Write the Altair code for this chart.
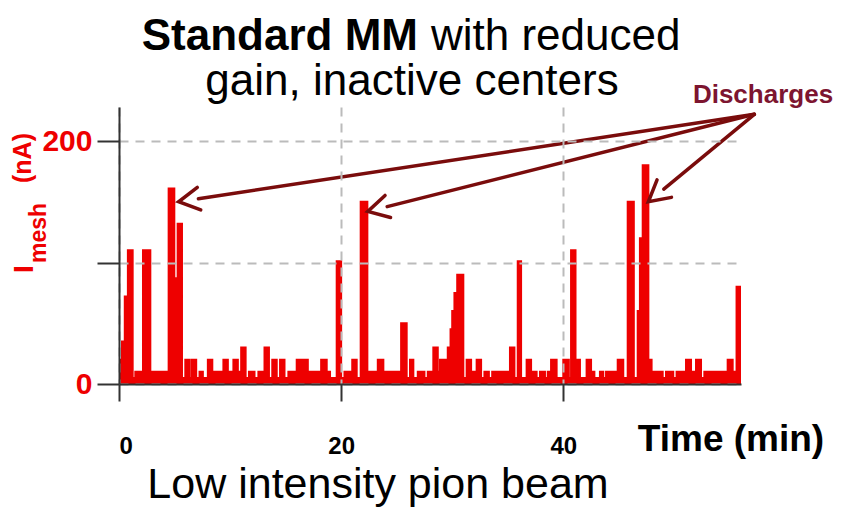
import math
import altair as alt
import pandas as pd

# ---- data: step change points (time in min, mesh current in nA) ----
times = [0.0, 0.27, 0.52, 0.8, 1.23, 1.47, 2.16, 2.82, 4.47, 4.98, 5.28, 5.67, 5.97, 6.3, 6.5, 6.95,
         7.25, 7.55, 8.0, 8.4, 9.4, 9.8, 10.3, 10.7, 11.0, 11.4, 11.7, 12.2, 12.55, 13.1, 13.5, 13.8,
         14.2, 14.5, 14.9, 15.25, 16.0, 17.0, 18.2, 18.7, 19.0, 19.6, 20.0, 20.3, 21.0, 21.4, 21.76,
         22.36, 23.3, 23.8, 25.4, 25.9, 26.2, 26.5, 26.9, 27.5, 27.8, 28.3, 28.7, 28.9, 29.5, 29.6,
         29.85, 30.0, 30.2, 30.45, 31.0, 31.3, 31.7, 32.2, 32.6, 32.9, 33.3, 33.6, 35.2, 35.6, 35.9,
         36.2, 36.7, 37.1, 37.6, 37.9, 38.35, 38.6, 38.9, 39.4, 40.0, 40.5, 40.7, 41.1, 41.5, 42.1,
         42.5, 42.8, 43.3, 43.6, 43.85, 44.9, 45.4, 45.8, 46.35, 46.7, 46.9, 47.15, 47.66, 47.95,
         48.95, 49.25, 49.9, 50.2, 51.05, 51.5, 51.95, 52.4, 52.7, 54.8, 55.25, 55.6, 56.0]
values = [20, 35, 72, 110, 5, 10, 110, 10, 161, 87, 132, 5, 20, 5, 20, 5,
          10, 5, 20, 10, 20, 10, 20, 10, 30, 5, 10, 5, 10, 30, 5, 20,
          5, 20, 5, 10, 20, 10, 20, 10, 5, 101, 5, 10, 20, 5, 150,
          10, 20, 10, 50, 5, 20, 5, 10, 5, 10, 30, 10, 20, 5, 30,
          45, 60, 75, 90, 5, 20, 10, 20, 5, 10, 5, 10, 30, 5, 101,
          5, 20, 10, 5, 10, 5, 10, 20, 5, 20, 5, 110, 20, 5, 20,
          10, 5, 10, 5, 10, 20, 5, 150, 5, 60, 120, 180, 20, 10,
          5, 10, 5, 10, 20, 10, 20, 5, 10, 20, 10, 80, 80]

# annotation arrows: origin near the "Discharges" label, tips at the discharge peaks
arrow_origin = (57.2, 222)
arrow_tip_t = [5.37, 22.4, 47.66]
arrow_tip_v = [150, 142, 150]

x_ticks = [0, 20, 40]
y_ticks = [0, 100, 200]
x_domain = [0, 56]
y_domain = [0, 228]

W, H = 622, 277
RED = "#ee0000"
MAROON = "#7a0c0c"
NARROW = "Liberation Sans Narrow, Arial Narrow, Liberation Sans, sans-serif"
SANS = "Liberation Sans, Arial, sans-serif"

df = pd.DataFrame({"t": times, "v": values})

sx = W / (x_domain[1] - x_domain[0])
sy = H / (y_domain[1] - y_domain[0])
rows = []
for tt, tv in zip(arrow_tip_t, arrow_tip_v):
    dx = (tt - arrow_origin[0]) * sx
    dy = -(tv - arrow_origin[1]) * sy
    n = math.hypot(dx, dy)
    bx, by = -dx / n, -dy / n
    ang = math.degrees(math.atan2(-bx, by)) % 360
    back = 20
    rows.append({"ox": arrow_origin[0], "oy": arrow_origin[1],
                 "ex": tt + bx * back / sx, "ey": tv - by * back / sy,
                 "tx": tt, "ty": tv, "ang": ang})
arrows = pd.DataFrame(rows)

xs = alt.Scale(domain=x_domain, nice=False, zero=False)
ys = alt.Scale(domain=y_domain, nice=False)

xaxis = alt.Axis(values=x_ticks, title=None, tickSize=17, tickWidth=2, tickColor="#333",
                 domainColor="#333", domainWidth=2, labelFont=NARROW, labelFontSize=24,
                 labelFontWeight="bold", labelColor="black", labelPadding=33,
                 grid=True, gridDash=[9, 7], gridColor="#bbbbbb", gridWidth=2, zindex=1)
yaxis = alt.Axis(values=y_ticks, title=None, tickSize=22, tickWidth=2, tickColor="#333",
                 domainColor="#333", domainWidth=2, labelFont=NARROW, labelFontSize=30,
                 labelFontWeight="bold", labelColor=RED, labelPadding=5,
                 labelExpr="datum.value == 100 ? '' : datum.label",
                 grid=True, gridDash=[9, 7], gridColor="#bbbbbb", gridWidth=2, zindex=1)

base = alt.Chart(df)
area = base.mark_area(interpolate="step-after", color=RED, opacity=1).encode(
    x=alt.X("t:Q", scale=xs, axis=xaxis),
    y=alt.Y("v:Q", scale=ys, axis=yaxis),
)
line = base.mark_line(interpolate="step-after", color=RED, strokeWidth=2).encode(
    x=alt.X("t:Q", scale=xs), y=alt.Y("v:Q", scale=ys))

arrow_lines = alt.Chart(arrows).mark_rule(color=MAROON, strokeWidth=3.5, strokeCap="round").encode(
    x=alt.X("ox:Q", scale=xs), y=alt.Y("oy:Q", scale=ys), x2="ex:Q", y2="ey:Q")
arrow_heads = alt.Chart(arrows).mark_point(
    shape="M -0.55 1 L 0 0 L 0.55 1", filled=False, stroke=MAROON, strokeWidth=3.5,
    size=1700, opacity=1, strokeJoin="miter", strokeCap="round").encode(
    x=alt.X("tx:Q", scale=xs), y=alt.Y("ty:Q", scale=ys), angle=alt.Angle("ang:Q", scale=None))

def txt(s, x, y, size, weight="normal", color="black", align="center", font=SANS, angle=0,
        baseline="alphabetic"):
    kw = dict(text=s, fontSize=size, fontWeight=weight, color=color, align=align, font=font,
              baseline=baseline)
    if angle:
        kw["angle"] = angle
    return alt.Chart(df).transform_filter("datum.t == 0").mark_text(**kw).encode(
        x=alt.value(x), y=alt.value(y))

texts = [
    txt("Standard MM", 299, -57, 44, "bold", align="right"),
    txt("with reduced", 312, -57, 44, align="left"),
    txt("gain, inactive centers", 293, -12, 44),
    txt("Low intensity pion beam", 259, 391, 43),
    txt("Time (min)", 612, 344, 37, "bold"),
    txt("Discharges", 644, -4, 26, "bold", color="#7d1530"),
    txt("I", -86, 166, 28, "bold", color=RED, align="left", angle=270),
    txt("mesh", -73, 156, 23, "bold", color=RED, align="left", angle=270),
    txt("(nA)", -88, 76, 25, "bold", color=RED, align="left", angle=270),
]

chart = alt.layer(area, line, arrow_lines, arrow_heads, *texts).properties(
    width=W, height=H,
    autosize=alt.AutoSizeParams(type="none"),
    padding={"left": 119, "top": 107, "right": 102, "bottom": 124},
    background="white",
).configure_view(stroke=None)

chart.save("out.html", embed_options={"renderer": "svg", "actions": False})
